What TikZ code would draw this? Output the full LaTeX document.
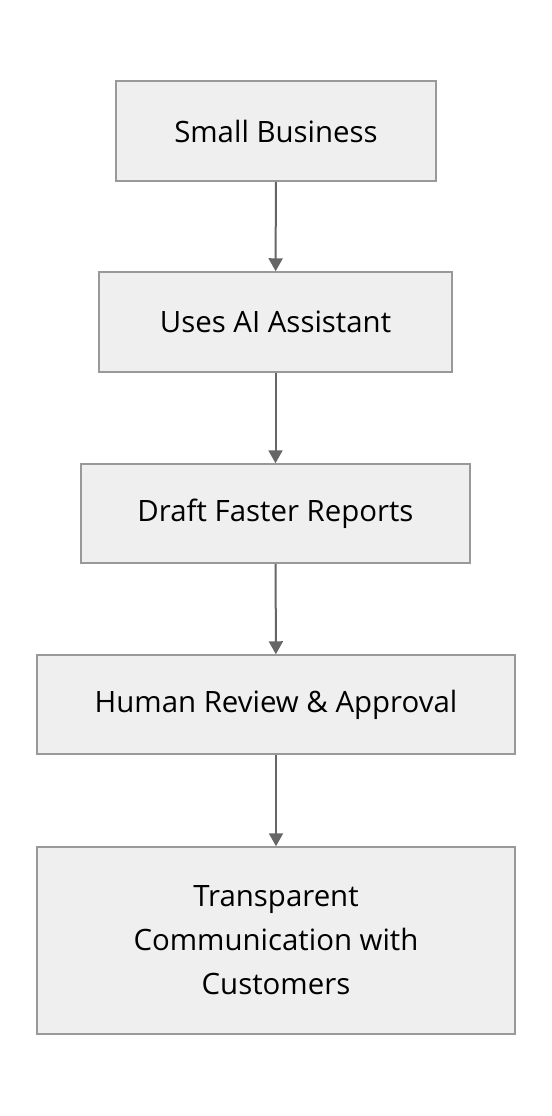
\documentclass[tikz,border=0pt]{standalone}
\usepackage{fontspec}
\setmainfont{Open Sans}
\usetikzlibrary{arrows.meta}
\definecolor{boxfill}{HTML}{EFEFEF}
\definecolor{boxline}{HTML}{999999}
\definecolor{flowline}{HTML}{666666}
\tikzset{stepbox/.style={draw=boxline, fill=boxfill, line width=0.75pt,
			inner sep=0pt, align=center,
			font=\fontsize{14.7pt}{22pt}\selectfont},
	flow/.style={-{Triangle[width=7pt,length=6.5pt]},
			draw=flowline, line width=1pt}}
\begin{document}
\begin{tikzpicture}[x=0.5pt,y=-0.5pt]
		\useasboundingbox (0,0) rectangle (552,1116);
		
		\node[stepbox, minimum width=160pt, minimum height=50pt] (business) at (276,131) {Small Business};
		\node[stepbox, minimum width=176.5pt, minimum height=50pt] (assistant) at (275.5,322) {Uses AI Assistant};
		\node[stepbox, minimum width=194.5pt, minimum height=49.5pt] (reports) at (275.5,513.5) {Draft Faster Reports};
		\node[stepbox, minimum width=239pt, minimum height=49.5pt] (review) at (276,704.5) {Human Review \& Approval};
		\node[stepbox, minimum width=239pt, minimum height=93.5pt] (customers) at (276,940.5) {Transparent\\Communication with\\Customers};
		
		\draw[flow] (business) -- (assistant);
		\draw[flow] (assistant) -- (reports);
		\draw[flow] (reports) -- (review);
		\draw[flow] (review) -- (customers);
\end{tikzpicture}
\end{document}
